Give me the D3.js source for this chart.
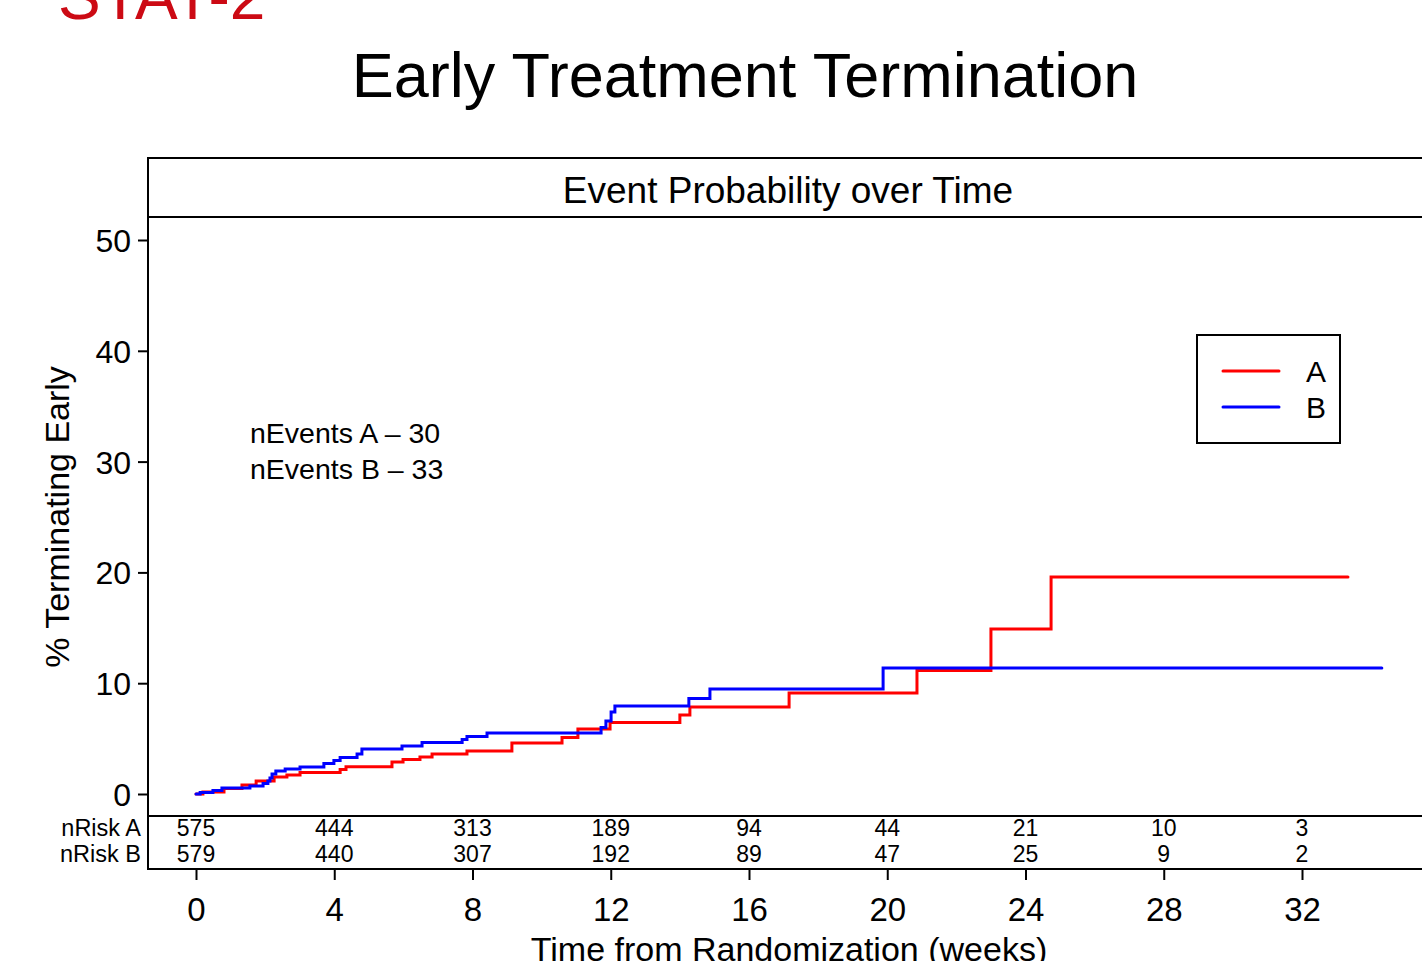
<!DOCTYPE html>
<html>
<head>
<meta charset="utf-8">
<script src="https://cdn.jsdelivr.net/npm/d3@7/dist/d3.min.js"></script>
<style>
  html, body { margin: 0; padding: 0; background: #fff; overflow: hidden; }
  svg { display: block; font-family: "Liberation Sans", Arial, Helvetica, sans-serif; }
</style>
</head>
<body>
<svg id="chart" width="1422" height="961"></svg>
<script>
// Kaplan-Meier style cumulative event curves (time in weeks, % terminating early)
const timesA = [0, 0.20, 0.81, 1.33, 1.74, 2.26, 2.63, 3.01, 4.17, 4.34, 5.67, 5.99, 6.48, 6.83, 7.84, 9.14, 10.59, 11.05, 11.98, 14.00, 14.29, 17.16, 20.86, 23.00, 24.74, 33.33];
const pctA   = [0, 0.18, 0.50, 0.81, 1.17, 1.53, 1.71, 1.94, 2.21, 2.46, 2.89, 3.11, 3.34, 3.61, 3.88, 4.60, 5.10, 5.87, 6.45, 7.13, 7.85, 9.12, 11.15, 14.89, 19.58, 19.58];

const timesB = [0, 0.12, 0.49, 0.75, 1.56, 1.94, 2.08, 2.14, 2.20, 2.31, 2.58, 3.01, 3.70, 3.99, 4.17, 4.66, 4.80, 5.96, 6.54, 7.70, 7.84, 8.42, 11.72, 11.86, 12.01, 12.12, 14.26, 14.87, 19.88, 34.31];
const pctB   = [0, 0.14, 0.32, 0.54, 0.72, 0.95, 1.17, 1.44, 1.81, 2.08, 2.26, 2.44, 2.75, 3.02, 3.29, 3.61, 4.06, 4.33, 4.65, 4.92, 5.19, 5.51, 6.00, 6.59, 7.40, 7.94, 8.62, 9.48, 11.37, 11.37];

// Number at risk table
const riskWeeks = [0, 4, 8, 12, 16, 20, 24, 28, 32];
const riskA = [575, 444, 313, 189, 94, 44, 21, 10, 3];
const riskB = [579, 440, 307, 192, 89, 47, 25, 9, 2];

const yTicks = [0, 10, 20, 30, 40, 50];
const seriesNames = ["A", "B"];
const seriesColors = ["#ff0000", "#0000ff"];
const eventCounts = [30, 33];

const svg = d3.select("#chart");
const FONT = '"Liberation Sans", Arial, Helvetica, sans-serif';

const x = d3.scaleLinear().domain([0, 32]).range([196, 1302]);
const y = d3.scaleLinear().domain([0, 50]).range([794, 240]);

const frameLeft = 148, headerTop = 158, headerBottom = 217, plotBottom = 816, tableBottom = 869;

// Corner tag and main title
svg.append("text").attr("x", 58).attr("y", 19)
  .attr("font-size", 64).attr("fill", "#cc0a14").text("STAT-2");
svg.append("text").attr("x", 745).attr("y", 97)
  .attr("text-anchor", "middle").attr("font-size", 63).attr("fill", "#000")
  .text("Early Treatment Termination");

// Panel header strip
svg.append("rect").attr("x", frameLeft).attr("y", headerTop)
  .attr("width", 1422 - frameLeft + 20).attr("height", headerBottom - headerTop)
  .attr("fill", "none").attr("stroke", "#000").attr("stroke-width", 2);
svg.append("text").attr("x", 788).attr("y", 203)
  .attr("text-anchor", "middle").attr("font-size", 37).text("Event Probability over Time");

// Plot frame: left edge, bottom of plot, bottom of risk table
svg.append("line").attr("x1", frameLeft).attr("x2", frameLeft)
  .attr("y1", headerBottom).attr("y2", tableBottom + 1)
  .attr("stroke", "#000").attr("stroke-width", 2);
[plotBottom, tableBottom].forEach(yy => {
  svg.append("line").attr("x1", frameLeft - 1).attr("x2", 1430)
    .attr("y1", yy).attr("y2", yy).attr("stroke", "#000").attr("stroke-width", 2);
});

// Y axis
const yAxis = d3.axisLeft(y).tickValues(yTicks).tickSize(10).tickPadding(7);
const gy = svg.append("g").attr("transform", `translate(${frameLeft},0)`).call(yAxis);
gy.select(".domain").remove();
gy.selectAll(".tick line").attr("stroke", "#000").attr("stroke-width", 2);
gy.selectAll(".tick text").attr("font-size", 32).attr("font-family", FONT).attr("fill", "#000").attr("dy", "0.36em");

svg.append("text")
  .attr("transform", `translate(69,517) rotate(-90)`)
  .attr("text-anchor", "middle").attr("font-size", 34).text("% Terminating Early");

// X axis below the risk table
const xAxis = d3.axisBottom(x).tickValues(riskWeeks).tickSize(11).tickPadding(14);
const gx = svg.append("g").attr("transform", `translate(0,${tableBottom})`).call(xAxis);
gx.select(".domain").remove();
gx.selectAll(".tick line").attr("stroke", "#000").attr("stroke-width", 2);
gx.selectAll(".tick text").attr("font-size", 33).attr("font-family", FONT).attr("fill", "#000")
  .attr("y", 52).attr("dy", "0");

svg.append("text").attr("x", 789).attr("y", 961)
  .attr("text-anchor", "middle").attr("font-size", 34).text("Time from Randomization (weeks)");

// Risk table rows
const riskRows = [{label: "nRisk A", vals: riskA, y: 836}, {label: "nRisk B", vals: riskB, y: 862}];
riskRows.forEach(r => {
  svg.append("text").attr("x", 141).attr("y", r.y).attr("text-anchor", "end")
    .attr("font-size", 23.5).text(r.label);
  svg.selectAll(null).data(riskWeeks).enter().append("text")
    .attr("x", d => x(d)).attr("y", r.y).attr("text-anchor", "middle")
    .attr("font-size", 23).text((d, i) => r.vals[i]);
});

// Step curves
const line = d3.line().curve(d3.curveStepAfter).x(d => x(d[0])).y(d => y(d[1]));
const curves = [d3.zip(timesA, pctA), d3.zip(timesB, pctB)];
curves.forEach((pts, i) => {
  svg.append("path").datum(pts).attr("d", line)
    .attr("fill", "none").attr("stroke", seriesColors[i])
    .attr("stroke-width", 3).attr("stroke-linejoin", "miter").attr("stroke-linecap", "round");
});

// Event counts annotation
eventCounts.forEach((n, i) => {
  svg.append("text").attr("x", 250).attr("y", 443 + i * 36)
    .attr("font-size", 28.5).text(`nEvents ${seriesNames[i]} \u2013 ${n}`);
});

// Legend
const lg = svg.append("g");
lg.append("rect").attr("x", 1197).attr("y", 335).attr("width", 143).attr("height", 108)
  .attr("fill", "#fff").attr("stroke", "#000").attr("stroke-width", 2);
seriesNames.forEach((s, i) => {
  const ly = 371 + i * 36;
  lg.append("line").attr("x1", 1223).attr("x2", 1279).attr("y1", ly).attr("y2", ly)
    .attr("stroke", seriesColors[i]).attr("stroke-width", 3).attr("stroke-linecap", "round");
  lg.append("text").attr("x", 1316).attr("y", ly + 11).attr("text-anchor", "middle")
    .attr("font-size", 30).text(s);
});
</script>
</body>
</html>
